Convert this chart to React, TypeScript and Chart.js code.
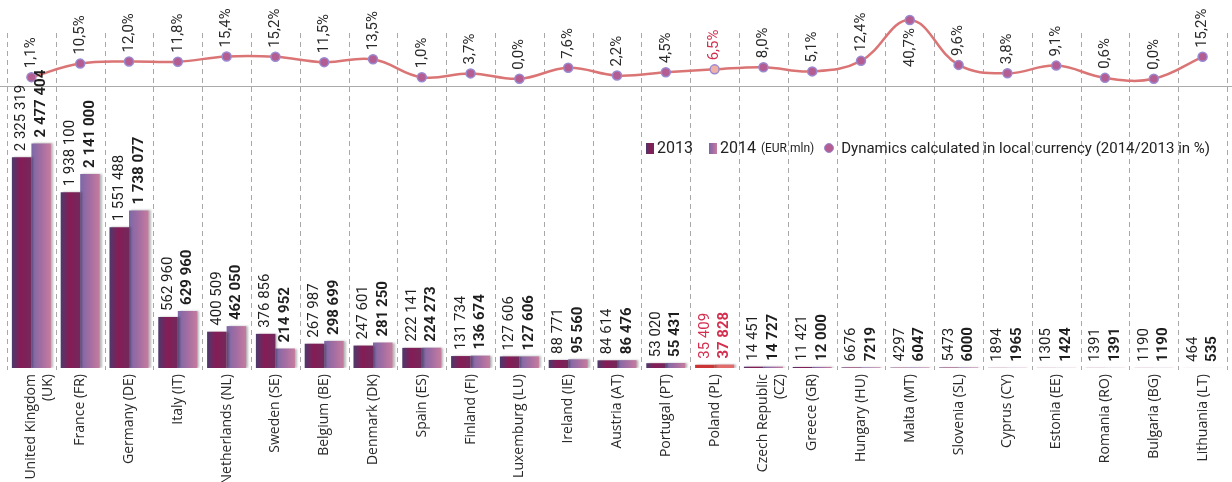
import React, { useEffect, useRef } from 'react';
import { Chart, registerables } from 'chart.js';

Chart.register(...registerables);

const categories: (string | string[])[] = [
  ['United Kingdom', '(UK)'],
  'France (FR)',
  'Germany (DE)',
  'Italy (IT)',
  'Netherlands (NL)',
  'Sweden (SE)',
  'Belgium (BE)',
  'Denmark (DK)',
  'Spain (ES)',
  'Finland (FI)',
  'Luxemburg (LU)',
  'Ireland (IE)',
  'Austria (AT)',
  'Portugal (PT)',
  'Poland (PL)',
  ['Czech Republic', '(CZ)'],
  'Greece (GR)',
  'Hungary (HU)',
  'Malta (MT)',
  'Slovenia (SL)',
  'Cyprus (CY)',
  'Estonia (EE)',
  'Romania (RO)',
  'Bulgaria (BG)',
  'Lithuania (LT)',
];

const values2013 = [
  2325319, 1938100, 1551488, 562960, 400509, 376856, 267987, 247601, 222141, 131734,
  127606, 88771, 84614, 53020, 35409, 14451, 11421, 6676, 4297, 5473, 1894, 1305, 1391,
  1190, 464,
];

const values2014 = [
  2477404, 2141000, 1738077, 629960, 462050, 214952, 298699, 281250, 224273, 136674,
  127606, 95560, 86476, 55431, 37828, 14727, 12000, 7219, 6047, 6000, 1965, 1424, 1391,
  1190, 535,
];

const dynamics = [
  1.1, 10.5, 12.0, 11.8, 15.4, 15.2, 11.5, 13.5, 1.0, 3.7, 0.0, 7.6, 2.2, 4.5, 6.5, 8.0,
  5.1, 12.4, 40.7, 9.6, 3.8, 9.1, 0.6, 0.0, 15.2,
];

const legendLabels = ['2013', '2014', '(EUR mln)', 'Dynamics calculated in local currency (2014/2013 in %)'];

const highlightIndex = 14; // Poland

const NUM_FONT = "Roboto, 'DejaVu Sans', sans-serif";
const TICK_FONT = "'Open Sans', 'Noto Sans', sans-serif";
const RED_TEXT = '#d42f4f';

const fmtValue = (v: number) =>
  v < 10000 ? String(v) : String(v).replace(/\B(?=(\d{3})+(?!\d))/g, ' ');
const fmtPct = (v: number) => v.toFixed(1).replace('.', ',') + '%';

const CAT_PCT = 0.8;

function barFill(context: any, which: number) {
  const chart = context.chart;
  const idx = context.dataIndex;
  if (idx === highlightIndex) return which === 0 ? '#cc3535' : '#e06c6c';
  const xs = chart.scales?.x;
  if (!chart.chartArea || !xs || context.type !== 'data') return which === 0 ? '#7a1f55' : '#a572a2';
  const c = xs.getPixelForValue(idx);
  const catW = xs.width / categories.length;
  const bw = (catW * CAT_PCT) / 2;
  const left = which === 0 ? c - bw : c;
  const g = chart.ctx.createLinearGradient(left, 0, left + bw, 0);
  if (which === 0) {
    g.addColorStop(0, '#4c3a6c');
    g.addColorStop(0.45, '#861c56');
    g.addColorStop(1, '#72295c');
  } else {
    g.addColorStop(0, '#7c68a8');
    g.addColorStop(0.5, '#a36da2');
    g.addColorStop(1, '#c67c9f');
  }
  return g;
}

const decorPlugin = {
  id: 'decor',
  beforeDatasetsDraw(chart: any) {
    const { ctx, chartArea } = chart;
    const n = categories.length;
    const step = (chartArea.right - chartArea.left) / n;
    ctx.save();
    ctx.strokeStyle = '#a8a8a8';
    ctx.lineWidth = 1;
    ctx.setLineDash([5, 4]);
    for (let i = 0; i <= n; i++) {
      const x = Math.round(chartArea.left + i * step) + 0.5;
      ctx.beginPath();
      ctx.moveTo(x, 33);
      ctx.lineTo(x, chartArea.bottom + 2);
      ctx.stroke();
    }
    ctx.setLineDash([]);
    const y = Math.round(chart.scales.yLine.getPixelForValue(-5)) + 0.5;
    ctx.strokeStyle = '#aaaaaa';
    ctx.beginPath();
    ctx.moveTo(0, y);
    ctx.lineTo(chart.width, y);
    ctx.stroke();
    ctx.restore();
  },
  beforeDatasetDraw(chart: any, args: any) {
    if (args.index < 2) {
      const ctx = chart.ctx;
      ctx.save();
      ctx.shadowColor = 'rgba(0,0,0,0.28)';
      ctx.shadowOffsetX = 2;
      ctx.shadowOffsetY = 0;
      ctx.shadowBlur = 2;
    }
  },
  afterDatasetDraw(chart: any, args: any) {
    if (args.index < 2) chart.ctx.restore();
  },
};

const labelPlugin = {
  id: 'valueLabels',
  afterDatasetsDraw(chart: any) {
    const ctx = chart.ctx;
    [0, 1].forEach((di) => {
      const meta = chart.getDatasetMeta(di);
      meta.data.forEach((el: any, i: number) => {
        const v = chart.data.datasets[di].data[i] as number;
        ctx.save();
        ctx.translate(el.x, el.y - 6);
        ctx.rotate(-Math.PI / 2);
        ctx.font = `${di === 1 ? 'bold ' : ''}15px ${NUM_FONT}`;
        ctx.fillStyle = i === highlightIndex ? RED_TEXT : '#1e1e1e';
        ctx.textAlign = 'left';
        ctx.textBaseline = 'middle';
        ctx.fillText(fmtValue(v), 0, 0);
        ctx.restore();
      });
    });
    const lm = chart.getDatasetMeta(2);
    lm.data.forEach((el: any, i: number) => {
      const txt = fmtPct(dynamics[i]);
      ctx.save();
      ctx.font = `15px ${NUM_FONT}`;
      const w = ctx.measureText(txt).width;
      const above = el.y - 9 - w > 0;
      ctx.translate(el.x, above ? el.y - 9 : el.y + 8);
      ctx.rotate(-Math.PI / 2);
      ctx.fillStyle = i === highlightIndex ? RED_TEXT : '#2a2a2a';
      ctx.textAlign = above ? 'left' : 'right';
      ctx.textBaseline = 'middle';
      ctx.fillText(txt, 0, 0);
      ctx.restore();
    });
  },
};

function Legend() {
  const sq = (bg: string) => (
    <span style={{ display: 'inline-block', width: 8, height: 11, background: bg, marginRight: 3 }} />
  );
  return (
    <div
      style={{
        position: 'absolute',
        right: 22,
        top: 139,
        display: 'flex',
        alignItems: 'center',
        fontFamily: NUM_FONT,
        fontSize: 15,
        color: '#222',
        whiteSpace: 'nowrap',
        lineHeight: '18px',
      }}
    >
      {sq('linear-gradient(90deg, #4c3a6c, #861c56 50%, #72295c)')}
      <span style={{ fontSize: 16 }}>{legendLabels[0]}</span>
      <span style={{ width: 16 }} />
      {sq('linear-gradient(90deg, #7c68a8, #a36da2 50%, #c67c9f)')}
      <span style={{ fontSize: 16 }}>{legendLabels[1]}</span>
      <span style={{ fontSize: 12, marginLeft: 5 }}>{legendLabels[2]}</span>
      <span
        style={{
          display: 'inline-block',
          width: 8,
          height: 8,
          borderRadius: '50%',
          background: '#b35d92',
          border: '1px solid #9a8ad0',
          marginLeft: 10,
          marginRight: 7,
        }}
      />
      <span>{legendLabels[3]}</span>
    </div>
  );
}

export default function App() {
  const ref = useRef<HTMLCanvasElement>(null);

  useEffect(() => {
    if (!ref.current) return;
    const chart = new Chart(ref.current, {
      type: 'bar',
      data: {
        labels: categories as any,
        datasets: [
          {
            type: 'bar',
            label: legendLabels[0],
            data: values2013,
            yAxisID: 'y',
            backgroundColor: (c: any) => barFill(c, 0),
            borderWidth: 0,
            categoryPercentage: CAT_PCT,
            barPercentage: 1.0,
            order: 2,
          },
          {
            type: 'bar',
            label: legendLabels[1],
            data: values2014,
            yAxisID: 'y',
            backgroundColor: (c: any) => barFill(c, 1),
            borderWidth: 0,
            categoryPercentage: CAT_PCT,
            barPercentage: 1.0,
            order: 2,
          },
          {
            type: 'line',
            label: legendLabels[3],
            data: dynamics,
            yAxisID: 'yLine',
            borderColor: '#db7474',
            borderWidth: 2.5,
            tension: 0.4,
            fill: false,
            pointRadius: 4.5,
            pointBorderWidth: 1.5,
            pointBackgroundColor: (c: any) => (c.dataIndex === highlightIndex ? '#efb0a6' : '#b35d92'),
            pointBorderColor: '#9a8ad0',
            order: 1,
          } as any,
        ],
      },
      options: {
        responsive: false,
        animation: false,
        layout: { autoPadding: false, padding: { left: 7, right: 5, top: 0, bottom: 0 } },
        plugins: {
          legend: { display: false },
          tooltip: { enabled: false },
        },
        scales: {
          x: {
            offset: true,
            grid: { display: false, drawTicks: false },
            border: { display: false },
            ticks: {
              autoSkip: false,
              maxRotation: 90,
              minRotation: 90,
              padding: 6,
              color: '#2a2a2a',
              font: { family: TICK_FONT, size: 14 },
            },
            afterFit: (scale: any) => {
              scale.height = 114;
            },
          },
          y: {
            display: false,
            min: 0,
            max: 4060000,
          },
          yLine: {
            display: false,
            position: 'left',
            min: -200.6,
            max: 54.6,
          },
        },
      } as any,
      plugins: [decorPlugin, labelPlugin],
    });
    return () => chart.destroy();
  }, []);

  return (
    <div style={{ position: 'absolute', left: 0, top: 0, width: 1232, height: 482, background: '#fff' }}>
      <canvas ref={ref} width={1232} height={482} style={{ display: 'block' }} />
      <Legend />
    </div>
  );
}
